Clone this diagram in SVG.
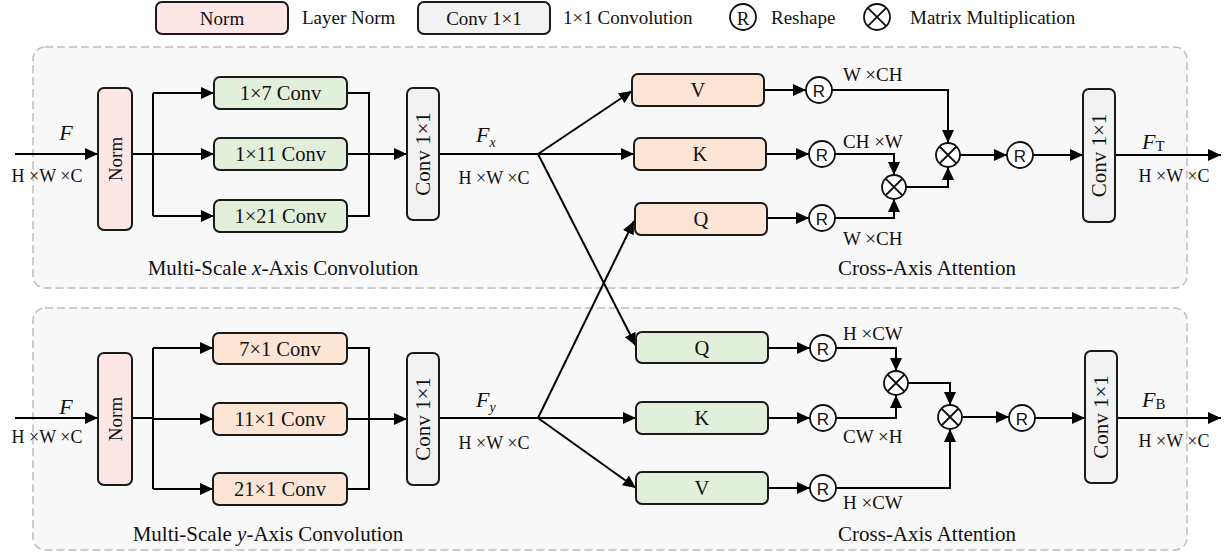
<svg xmlns="http://www.w3.org/2000/svg" width="1225" height="555" viewBox="0 0 1225 555">
<defs>
<marker id="ah" markerUnits="userSpaceOnUse" markerWidth="14" markerHeight="12" refX="13" refY="6" orient="auto">
<path d="M0,0 L13,6 L0,12 z" fill="#000"/>
</marker>
<style>
text{font-family:"Liberation Serif","Times New Roman",serif;fill:#111;}
.t{font-size:19px;}
.b{font-size:20.5px;}
.cap{font-size:21px;}
.rot{font-size:21px;}
.lbl{font-size:18px;}
.dim{font-size:19px;}
.mid{text-anchor:middle;dominant-baseline:central;}
.panel{fill:#f8f8f8;stroke:#bdbdbd;stroke-width:1.5;stroke-dasharray:8 4;}
.box{stroke:#1a1a1a;stroke-width:2;}
.green{fill:#e2efda;}
.orange{fill:#fce5d5;}
.pink{fill:#fde6e6;}
.gray{fill:#f2f2f2;}
.circ{fill:#fff;stroke:#111;stroke-width:1.8;}
.cn{fill:none;stroke:#000;stroke-width:2;}
.ar{marker-end:url(#ah);}
.rs{font-family:"Liberation Sans",Arial,sans-serif;font-size:17px;}
.it{font-style:italic;}
</style>
</defs>

<!-- panels -->
<rect class="panel" x="33" y="47" width="1154" height="241" rx="12"/>
<rect class="panel" x="33" y="308" width="1154" height="242" rx="12"/>

<!-- legend -->
<g id="legend">
<rect class="box pink" x="156" y="2" width="132" height="32" rx="6"/>
<text class="t mid" x="222" y="18">Norm</text>
<text class="t" x="302" y="24">Layer Norm</text>
<rect class="box gray" x="418" y="2" width="132" height="32" rx="6"/>
<text class="t mid" x="484" y="18">Conv 1×1</text>
<text class="t" x="563" y="24">1×1 Convolution</text>
<circle class="circ" cx="743" cy="17" r="13" style="fill:none"/>
<text class="t mid" x="743" y="18">R</text>
<text class="t" x="771" y="24">Reshape</text>
<circle class="circ" cx="877" cy="17" r="13" style="fill:none"/>
<path d="M867.8,7.8 L886.2,26.2 M886.2,7.8 L867.8,26.2" stroke="#111" stroke-width="1.8"/>
<text class="t" x="910" y="24">Matrix Multiplication</text>
</g>

<!-- connectors -->
<g id="connectors">
<!-- top -->
<line class="cn ar" x1="15" y1="154" x2="98" y2="154"/>
<path class="cn" d="M132,154 H153 M153,93 V216"/>
<line class="cn ar" x1="153" y1="93" x2="214" y2="93"/>
<line class="cn ar" x1="153" y1="154" x2="214" y2="154"/>
<line class="cn ar" x1="153" y1="216" x2="214" y2="216"/>
<path class="cn" d="M347,93 H369 V216 H347"/>
<line class="cn ar" x1="347" y1="154" x2="407" y2="154"/>
<line class="cn" x1="439" y1="154" x2="538" y2="154"/>
<line class="cn ar" x1="538" y1="154" x2="632" y2="91"/>
<line class="cn ar" x1="538" y1="154" x2="634" y2="154"/>
<line class="cn ar" x1="538" y1="154" x2="636" y2="346"/>
<line class="cn ar" x1="764" y1="90" x2="806" y2="90"/>
<line class="cn ar" x1="766" y1="154" x2="809" y2="154"/>
<line class="cn ar" x1="767" y1="218" x2="809" y2="218"/>
<path class="cn ar" d="M832,90 H948 V143"/>
<path class="cn ar" d="M835,154 H894 V175"/>
<path class="cn ar" d="M835,218 H894 V199"/>
<path class="cn ar" d="M906,187 H948 V167"/>
<line class="cn ar" x1="960" y1="155" x2="1007" y2="155"/>
<line class="cn ar" x1="1033" y1="155" x2="1083" y2="155"/>
<line class="cn ar" x1="1115" y1="155" x2="1221" y2="155"/>
<!-- bottom -->
<line class="cn ar" x1="15" y1="418" x2="98" y2="418"/>
<path class="cn" d="M132,418 H153 M153,348 V489"/>
<line class="cn ar" x1="153" y1="348" x2="213" y2="348"/>
<line class="cn ar" x1="153" y1="419" x2="213" y2="419"/>
<line class="cn ar" x1="153" y1="489" x2="213" y2="489"/>
<path class="cn" d="M347,348 H369 V489 H347"/>
<line class="cn ar" x1="347" y1="419" x2="407" y2="419"/>
<line class="cn" x1="439" y1="418" x2="538" y2="418"/>
<line class="cn ar" x1="538" y1="418" x2="634" y2="221"/>
<line class="cn ar" x1="538" y1="418" x2="636" y2="418"/>
<line class="cn ar" x1="538" y1="418" x2="636" y2="488"/>
<line class="cn ar" x1="768" y1="348" x2="810" y2="348"/>
<line class="cn ar" x1="768" y1="418" x2="810" y2="418"/>
<line class="cn ar" x1="768" y1="488" x2="810" y2="488"/>
<path class="cn ar" d="M836,348 H896 V371"/>
<path class="cn ar" d="M836,418 H896 V395"/>
<path class="cn ar" d="M908,383 H950 V405"/>
<path class="cn ar" d="M836,488 H950 V429"/>
<line class="cn ar" x1="962" y1="417" x2="1009" y2="417"/>
<line class="cn ar" x1="1035" y1="418" x2="1085" y2="418"/>
<line class="cn ar" x1="1117" y1="418" x2="1221" y2="418"/>
</g>

<!-- top branch nodes -->
<g id="norm-top"><rect class="box pink" x="98" y="88" width="34" height="142" rx="6"/><text class="t mid" transform="translate(115,159) rotate(-90)">Norm</text></g>
<g id="conv1x7"><rect class="box green" x="214" y="77" width="133" height="32" rx="6"/><text class="b mid" x="280.5" y="93">1×7 Conv</text></g>
<g id="conv1x11"><rect class="box green" x="214" y="138" width="133" height="32" rx="6"/><text class="b mid" x="280.5" y="154">1×11 Conv</text></g>
<g id="conv1x21"><rect class="box green" x="214" y="200" width="133" height="32" rx="6"/><text class="b mid" x="280.5" y="216">1×21 Conv</text></g>
<g id="conv-top"><rect class="box gray" x="407" y="88" width="32" height="132" rx="6"/><text class="rot mid" transform="translate(423,154) rotate(-90)">Conv 1×1</text></g>
<g id="V-top"><rect class="box orange" x="632" y="74" width="132" height="32" rx="6"/><text class="b mid" x="698" y="90">V</text></g>
<g id="K-top"><rect class="box orange" x="634" y="138" width="132" height="32" rx="6"/><text class="b mid" x="700" y="154">K</text></g>
<g id="Q-top"><rect class="box orange" x="635" y="203" width="132" height="32" rx="6"/><text class="b mid" x="701" y="219">Q</text></g>
<g id="R-top1"><circle class="circ" cx="819" cy="90" r="13"/><text class="rs mid" x="819" y="91">R</text></g>
<g id="R-top2"><circle class="circ" cx="822" cy="154" r="13"/><text class="rs mid" x="822" y="155">R</text></g>
<g id="R-top3"><circle class="circ" cx="822" cy="218" r="13"/><text class="rs mid" x="822" y="219">R</text></g>
<g id="mm-top-small"><circle class="circ" cx="894" cy="187" r="12"/><path d="M885.5,178.5 L902.5,195.5 M902.5,178.5 L885.5,195.5" stroke="#111" stroke-width="1.8"/></g>
<g id="mm-top-big"><circle class="circ" cx="948" cy="155" r="12"/><path d="M939.5,146.5 L956.5,163.5 M956.5,146.5 L939.5,163.5" stroke="#111" stroke-width="1.8"/></g>
<g id="R-top4"><circle class="circ" cx="1020" cy="155" r="13"/><text class="rs mid" x="1020" y="156">R</text></g>
<g id="conv-top-out"><rect class="box gray" x="1083" y="89" width="32" height="133" rx="6"/><text class="rot mid" transform="translate(1099,155.5) rotate(-90)">Conv 1×1</text></g>

<!-- bottom branch nodes -->
<g id="norm-bot"><rect class="box pink" x="98" y="353" width="34" height="132" rx="6"/><text class="t mid" transform="translate(115,419) rotate(-90)">Norm</text></g>
<g id="conv7x1"><rect class="box orange" x="213" y="333" width="134" height="31" rx="6"/><text class="b mid" x="280" y="348.5">7×1 Conv</text></g>
<g id="conv11x1"><rect class="box orange" x="213" y="403" width="134" height="32" rx="6"/><text class="b mid" x="280" y="419">11×1 Conv</text></g>
<g id="conv21x1"><rect class="box orange" x="213" y="473" width="134" height="32" rx="6"/><text class="b mid" x="280" y="489">21×1 Conv</text></g>
<g id="conv-bot"><rect class="box gray" x="407" y="353" width="32" height="132" rx="6"/><text class="rot mid" transform="translate(423,419) rotate(-90)">Conv 1×1</text></g>
<g id="Q-bot"><rect class="box green" x="636" y="332" width="132" height="31" rx="6"/><text class="b mid" x="702" y="347.5">Q</text></g>
<g id="K-bot"><rect class="box green" x="636" y="402" width="132" height="32" rx="6"/><text class="b mid" x="702" y="418">K</text></g>
<g id="V-bot"><rect class="box green" x="636" y="472" width="132" height="32" rx="6"/><text class="b mid" x="702" y="488">V</text></g>
<g id="R-bot1"><circle class="circ" cx="823" cy="348" r="13"/><text class="rs mid" x="823" y="349">R</text></g>
<g id="R-bot2"><circle class="circ" cx="823" cy="418" r="13"/><text class="rs mid" x="823" y="419">R</text></g>
<g id="R-bot3"><circle class="circ" cx="823" cy="488" r="13"/><text class="rs mid" x="823" y="489">R</text></g>
<g id="mm-bot-small"><circle class="circ" cx="896" cy="383" r="12"/><path d="M887.5,374.5 L904.5,391.5 M904.5,374.5 L887.5,391.5" stroke="#111" stroke-width="1.8"/></g>
<g id="mm-bot-big"><circle class="circ" cx="950" cy="417" r="12"/><path d="M941.5,408.5 L958.5,425.5 M958.5,408.5 L941.5,425.5" stroke="#111" stroke-width="1.8"/></g>
<g id="R-bot4"><circle class="circ" cx="1022" cy="418" r="13"/><text class="rs mid" x="1022" y="419">R</text></g>
<g id="conv-bot-out"><rect class="box gray" x="1085" y="351" width="32" height="132" rx="6"/><text class="rot mid" transform="translate(1101,417) rotate(-90)">Conv 1×1</text></g>

<!-- labels -->
<g id="labels">
<text class="it" x="66" y="140" font-size="22" text-anchor="middle">F</text>
<text class="lbl" x="47" y="182" text-anchor="middle">H ×W ×C</text>
<text x="476" y="142" font-size="22" class="it">F<tspan font-size="14" dy="5">x</tspan></text>
<text class="lbl" x="494" y="184" text-anchor="middle">H ×W ×C</text>
<text x="1142" y="149" font-size="22" class="it">F<tspan font-size="15" dy="2" font-style="normal">T</tspan></text>
<text class="lbl" x="1174" y="182" text-anchor="middle">H ×W ×C</text>
<text class="dim" x="843" y="81">W ×CH</text>
<text class="dim" x="843" y="148">CH ×W</text>
<text class="dim" x="843" y="245">W ×CH</text>
<text class="cap" x="283" y="275" text-anchor="middle">Multi-Scale <tspan font-style="italic">x</tspan>-Axis Convolution</text>
<text class="cap" x="927" y="275" text-anchor="middle">Cross-Axis Attention</text>

<text class="it" x="66" y="414" font-size="22" text-anchor="middle">F</text>
<text class="lbl" x="47" y="443" text-anchor="middle">H ×W ×C</text>
<text x="476" y="407" font-size="22" class="it">F<tspan font-size="14" dy="5">y</tspan></text>
<text class="lbl" x="494" y="449" text-anchor="middle">H ×W ×C</text>
<text x="1142" y="407" font-size="22" class="it">F<tspan font-size="15" dy="2" font-style="normal">B</tspan></text>
<text class="lbl" x="1174" y="447" text-anchor="middle">H ×W ×C</text>
<text class="dim" x="843" y="340">H ×CW</text>
<text class="dim" x="843" y="443">CW ×H</text>
<text class="dim" x="843" y="509">H ×CW</text>
<text class="cap" x="268" y="541" text-anchor="middle">Multi-Scale <tspan font-style="italic">y</tspan>-Axis Convolution</text>
<text class="cap" x="927" y="541" text-anchor="middle">Cross-Axis Attention</text>
</g>
</svg>
